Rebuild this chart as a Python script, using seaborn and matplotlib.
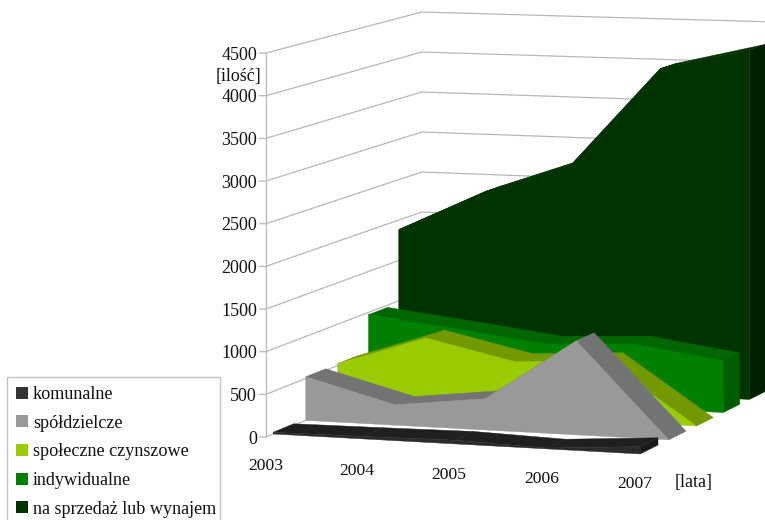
import matplotlib
matplotlib.use("Agg")
import matplotlib.pyplot as plt
import seaborn as sns
from matplotlib.patches import Patch, Rectangle

# Values per year
years = ["2003", "2004", "2005", "2006", "2007"]
komunalne = [20, 30, 43, 10, 84]
spoldzielcze = [520, 242, 368, 1102, 0]
spoleczne = [524, 888, 655, 720, 0]
indywidualne = [972, 851, 720, 771, 620]
na_sprzedaz = [1882, 2394, 2779, 3977, 4241]
value_ticks = [0, 500, 1000, 1500, 2000, 2500, 3000, 3500, 4000, 4500]

names = ["komunalne", "spółdzielcze", "społeczne czynszowe", "indywidualne",
         "na sprzedaż lub wynajem"]
series = [komunalne, spoldzielcze, spoleczne, indywidualne, na_sprzedaz]
front_colors = ["#2b2b2b", "#999999", "#99cc00", "#008000", "#003300"]
top_colors = ["#1f1f1f", "#737373", "#739900", "#006600", "#003000"]
side_colors = ["#1a1a1a", "#6a6a6a", "#6b8f00", "#005c00", "#001f00"]
legend_colors = ["#333333", "#999999", "#99cc00", "#008000", "#003300"]

# Depth layout of the slabs along the floor
first_depth, depth_step, slab_depth = 0.043, 0.2, 0.125


def project(year, depth, value):
    """Perspective projection of (year index, depth 0-1, value) onto the canvas."""
    w = 1 + 0.0667 * depth - 0.0055 * year
    sx = (266 + 184 * depth + 88.5 * year) / w
    sy = (437 - 40.2 * depth + 2.5 * year - 0.08533 * value) / w
    return sx, sy


sns.set_theme(style="white")
plt.rcParams["font.family"] = ["Liberation Serif", "DejaVu Serif"]
text_color = "#111111"

fig = plt.figure(figsize=(7.65, 5.2), dpi=100)
ax = fig.add_axes([0, 0, 1, 1])
ax.set_xlim(0, 765)
ax.set_ylim(520, 0)
ax.axis("off")

grid_color = "#b8b8b8"


def draw_line(points):
    ax.plot([p[0] for p in points], [p[1] for p in points], color=grid_color,
            lw=0.9, solid_capstyle="butt", zorder=0.5)


# Side wall, back wall, value axis and ticks
for v in value_ticks:
    left = project(0, 0, v)
    corner = project(0, 1, v)
    draw_line([(left[0] - 7, left[1]), left, corner])
    if v > 0:
        draw_line([corner, project(5, 1, v)])
    ax.text(left[0] - 9, left[1] + 2, str(v), ha="right", va="center",
            fontsize=13, color=text_color)
draw_line([project(0, 0, 0), project(0, 0, value_ticks[-1])])


def face(points, color):
    ax.fill([p[0] for p in points], [p[1] for p in points], facecolor=color,
            edgecolor=color, lw=0.3)


# Slabs are painted from the back of the floor towards the viewer
last = len(years) - 1
for i in reversed(range(len(series))):
    vals = series[i]
    z0 = first_depth + depth_step * i
    z1 = z0 + slab_depth
    face([project(last, z0, 0), project(last, z1, 0),
          project(last, z1, vals[last]), project(last, z0, vals[last])],
         side_colors[i])
    for k in range(last):
        face([project(k, z0, vals[k]), project(k + 1, z0, vals[k + 1]),
              project(k + 1, z1, vals[k + 1]), project(k, z1, vals[k])],
             top_colors[i])
    outline = [project(k, z0, vals[k]) for k in range(last + 1)]
    outline += [project(k, z0, 0) for k in range(last, -1, -1)]
    face(outline, front_colors[i])

# Year labels under the floor
for k, label in enumerate(years):
    sx, sy = project(k, 0, 0)
    ax.text(sx + 0.3 * k, sy + 29.5 - 0.75 * k, label, ha="center", va="center",
            fontsize=12.6, color=text_color)
ax.text(694, 483, "[lata]", ha="center", va="center", fontsize=13, color=text_color)
ax.text(239, 76, "[ilość]", ha="center", va="center", fontsize=13, color=text_color)

# Legend box runs off the lower edge of the canvas
ax.add_patch(Rectangle((7, 377), 213, 160, facecolor="white", edgecolor="#c4c4c4",
                       lw=1, zorder=3))
handles = [Patch(facecolor=c, edgecolor="none") for c in legend_colors]
legend = ax.legend(handles, names, loc="upper left", bbox_to_anchor=(7 / 765, 1 - 377 / 520),
                   borderaxespad=0, frameon=False, fontsize=13.1, labelcolor=text_color,
                   handlelength=0.66, handleheight=0.66, handletextpad=0.27,
                   labelspacing=0.64, borderpad=0.5)
legend.set_zorder(4)

fig.savefig("out.png", dpi=100)
